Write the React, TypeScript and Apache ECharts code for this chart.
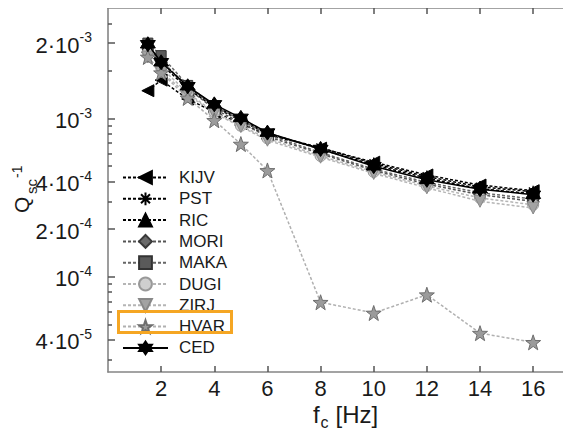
import React, { useEffect, useRef } from 'react';
import * as echarts from 'echarts';

// ---- data ----
const freqHz = [1.5, 2, 3, 4, 5, 6, 8, 10, 12, 14, 16];

const qKIJV = [1.5e-3, 1.75e-3, 1.33e-3, 1.1e-3, 9.3e-4, 7.9e-4, 6.5e-4, 5.3e-4, 4.4e-4, 3.8e-4, 3.5e-4];
const qPST = [2.75e-3, 2.2e-3, 1.55e-3, 1.18e-3, 9.7e-4, 8.0e-4, 6.55e-4, 5.2e-4, 4.3e-4, 3.7e-4, 3.45e-4];
const qRIC = [2.85e-3, 2.3e-3, 1.6e-3, 1.2e-3, 9.9e-4, 8.1e-4, 6.4e-4, 5.1e-4, 4.2e-4, 3.6e-4, 3.35e-4];
const qMORI = [2.9e-3, 2.35e-3, 1.55e-3, 1.15e-3, 9.4e-4, 7.7e-4, 6.0e-4, 4.7e-4, 3.85e-4, 3.3e-4, 3.0e-4];
const qMAKA = [3.0e-3, 2.5e-3, 1.62e-3, 1.2e-3, 9.8e-4, 7.9e-4, 6.1e-4, 4.8e-4, 3.95e-4, 3.4e-4, 3.1e-4];
const qDUGI = [2.6e-3, 2.1e-3, 1.45e-3, 1.1e-3, 9.0e-4, 7.5e-4, 5.8e-4, 4.6e-4, 3.75e-4, 3.15e-4, 2.85e-4];
const qZIRJ = [2.45e-3, 1.97e-3, 1.42e-3, 1.08e-3, 8.9e-4, 7.3e-4, 5.7e-4, 4.5e-4, 3.65e-4, 3.0e-4, 2.72e-4];
const qHVAR = [2.45e-3, 1.95e-3, 1.35e-3, 9.75e-4, 6.9e-4, 4.7e-4, 6.9e-5, 5.9e-5, 7.7e-5, 4.4e-5, 3.85e-5];
const qCED = [2.95e-3, 2.27e-3, 1.6e-3, 1.23e-3, 1.01e-3, 8.15e-4, 6.42e-4, 5.0e-4, 4.1e-4, 3.58e-4, 3.3e-4];

const xTicks = [2, 4, 6, 8, 10, 12, 14, 16];
const yMajorTicks = [3e-3, 1e-3, 4e-4, 2e-4, 1e-4, 4e-5];
const yMajorMantissa = ['2·', '', '4·', '2·', '', '4·'];
const yMajorExponent = ['-3', '-3', '-4', '-4', '-4', '-5'];
const yMinorTicks = [4e-3, 2e-3, 9e-4, 8e-4, 7e-4, 6e-4, 5e-4, 3e-4, 9e-5, 8e-5, 7e-5, 6e-5, 5e-5, 3e-5];

const xMin = 0;
const xMax = 17.5;
const yMin = 2.5e-5;
const yMax = 5e-3;

// ---- styles ----
const FONT = 'Liberation Sans, Arial, Helvetica, sans-serif';
const TXT = '#1a1a1a';
const AXIS_COLOR = '#858585';
const TICK_COLOR = '#555555';

const LEFT_TRI = 'path://M0,5L10,0L10,10Z';
const DOWN_TRI = 'path://M0,0L10,0L5,9Z';
const ASTERISK = 'path://M5,0L5,10M0,5L10,5M1.5,1.5L8.5,8.5M8.5,1.5L1.5,8.5';
const STAR5 = 'path://M5,0L6.18,3.38L9.76,3.45L6.9,5.62L7.94,9.05L5,7L2.06,9.05L3.1,5.62L0.24,3.45L3.82,3.38Z';
const HEXAGRAM = 'path://M5,0L9.33,7.5L0.67,7.5Z M5,10L0.67,2.5L9.33,2.5Z';

const seriesDefs = [
  { name: 'KIJV', values: qKIJV, symbol: LEFT_TRI, size: 12, fill: '#000', stroke: '#000', bw: 1, line: '#000', dash: true },
  { name: 'PST', values: qPST, symbol: ASTERISK, size: 12, fill: '#000', stroke: '#000', bw: 1.4, line: '#000', dash: true },
  { name: 'RIC', values: qRIC, symbol: 'triangle', size: 12, fill: '#000', stroke: '#000', bw: 1, line: '#000', dash: true },
  { name: 'MORI', values: qMORI, symbol: 'diamond', size: 12, fill: '#6a6a6a', stroke: '#3a3a3a', bw: 1, line: '#555', dash: true },
  { name: 'MAKA', values: qMAKA, symbol: 'rect', size: 10, fill: '#5a5a5a', stroke: '#333', bw: 1, line: '#666', dash: true },
  { name: 'DUGI', values: qDUGI, symbol: 'circle', size: 11, fill: '#cfcfcf', stroke: '#999', bw: 1, line: '#b5b5b5', dash: true },
  { name: 'ZIRJ', values: qZIRJ, symbol: DOWN_TRI, size: 12, fill: '#a3a3a3', stroke: '#888', bw: 1, line: '#b5b5b5', dash: true },
  { name: 'HVAR', values: qHVAR, symbol: STAR5, size: 15, fill: '#9b9b9b', stroke: '#6e6e6e', bw: 1, line: '#b0b0b0', dash: true },
  { name: 'CED', values: qCED, symbol: HEXAGRAM, size: 15, fill: '#000', stroke: '#000', bw: 1, line: '#000', dash: false },
];

const L10 = (v: number) => Math.log10(v);

function yLabel(val: number): string {
  let best = 0;
  let bestD = Infinity;
  yMajorTicks.forEach((t, i) => {
    const d = Math.abs(L10(t) - val);
    if (d < bestD) { bestD = d; best = i; }
  });
  return `{b|${yMajorMantissa[best]}10}{s|${yMajorExponent[best]}}`;
}

export default function App() {
  const ref = useRef<HTMLDivElement>(null);

  useEffect(() => {
    if (!ref.current) return;
    const chart = echarts.init(ref.current, undefined, { renderer: 'svg' });

    const lmin = L10(yMin);
    const lmax = L10(yMax);
    const majorLog = yMajorTicks.map(L10);
    const minorLog = yMinorTicks.map(L10);
    const axisLine = { show: true, lineStyle: { color: AXIS_COLOR, width: 1.6 } };
    const tickStyle = { color: TICK_COLOR, width: 1.5 };

    const option: any = {
      animation: false,
      backgroundColor: '#ffffff',
      grid: { left: 108, top: 8, right: -2, bottom: 61, containLabel: false, outerBoundsMode: 'none' },
      xAxis: [
        {
          type: 'value', min: xMin, max: xMax, position: 'bottom',
          axisLine,
          axisTick: { show: true, inside: true, length: 6, customValues: xTicks, lineStyle: tickStyle },
          axisLabel: { show: true, customValues: xTicks, fontSize: 22, fontFamily: FONT, color: TXT, margin: 5 },
          splitLine: { show: false },
        },
        {
          type: 'value', min: xMin, max: xMax, position: 'top',
          axisLine,
          axisTick: { show: true, inside: true, length: 6, customValues: xTicks, lineStyle: tickStyle },
          axisLabel: { show: false },
          splitLine: { show: false },
        },
      ],
      yAxis: [
        {
          type: 'log', logBase: 10, min: yMin, max: yMax, position: 'left',
          axisLine, axisTick: { show: false }, axisLabel: { show: false },
          splitLine: { show: false }, minorTick: { show: false },
        },
        {
          type: 'value', min: lmin, max: lmax, position: 'left',
          axisLine: { show: false },
          axisTick: { show: true, inside: true, length: 7, customValues: majorLog, lineStyle: tickStyle },
          axisLabel: {
            show: true, customValues: majorLog, margin: 16, formatter: yLabel,
            rich: {
              b: { fontSize: 22, fontFamily: FONT, color: TXT, verticalAlign: 'bottom', lineHeight: 26 },
              s: { fontSize: 14, fontFamily: FONT, color: TXT, verticalAlign: 'top', lineHeight: 14 },
            },
          },
          splitLine: { show: false },
        },
        {
          type: 'value', min: lmin, max: lmax, position: 'left',
          axisLine: { show: false },
          axisTick: { show: true, inside: true, length: 4, customValues: minorLog, lineStyle: tickStyle },
          axisLabel: { show: false },
          splitLine: { show: false },
        },
        {
          type: 'value', min: lmin, max: lmax, position: 'right',
          axisLine,
          axisTick: { show: true, inside: true, length: 7, customValues: majorLog, lineStyle: tickStyle },
          axisLabel: { show: false },
          splitLine: { show: false },
        },
        {
          type: 'value', min: lmin, max: lmax, position: 'right',
          axisLine: { show: false },
          axisTick: { show: true, inside: true, length: 4, customValues: minorLog, lineStyle: tickStyle },
          axisLabel: { show: false },
          splitLine: { show: false },
        },
      ],
      legend: {
        orient: 'vertical', left: 122, top: 169, itemWidth: 45, itemHeight: 16, itemGap: 4.3,
        padding: 0, selectedMode: false,
        textStyle: { fontSize: 17, fontFamily: FONT, color: TXT, lineHeight: 17, padding: [0, 0, 0, 6] },
        data: seriesDefs.map((s) => s.name),
      },
      series: seriesDefs.map((s, k) => ({
        name: s.name,
        type: 'line',
        xAxisIndex: 0,
        yAxisIndex: 0,
        data: freqHz.map((f, i) => [f, s.values[i]]),
        symbol: s.symbol,
        symbolSize: s.size,
        showSymbol: true,
        z: 2 + k * 0.01,
        itemStyle: { color: s.fill, borderColor: s.stroke, borderWidth: s.bw },
        lineStyle: { color: s.line, width: 1.5, type: s.dash ? [3, 2] : 'solid' },
        emphasis: { disabled: true },
      })),
      graphic: [
        {
          type: 'rect', z: 100,
          shape: { x: 118.5, y: 311.5, width: 113, height: 21 },
          style: { fill: 'none', stroke: '#f5a623', lineWidth: 3 },
        },
        { type: 'text', x: 313, y: 426, style: { text: 'f', fontSize: 24, fontFamily: FONT, fill: TXT, align: 'left', verticalAlign: 'bottom' } },
        { type: 'text', x: 320.5, y: 430, style: { text: 'c', fontSize: 16, fontFamily: FONT, fill: TXT, align: 'left', verticalAlign: 'bottom' } },
        { type: 'text', x: 335.5, y: 426, style: { text: '[Hz]', fontSize: 24, fontFamily: FONT, fill: TXT, align: 'left', verticalAlign: 'bottom' } },
        {
          type: 'group', x: 28, y: 213, rotation: Math.PI / 2,
          children: [
            { type: 'text', x: 0, y: -7, style: { text: 'Q', fontSize: 21, fontFamily: FONT, fill: TXT, align: 'left', verticalAlign: 'middle' } },
            { type: 'text', x: 19, y: 3.8, style: { text: 'sc', fontSize: 15, fontFamily: FONT, fill: TXT, align: 'left', verticalAlign: 'middle' } },
            { type: 'text', x: 35, y: -10.9, style: { text: '-1', fontSize: 14, fontFamily: FONT, fill: TXT, align: 'left', verticalAlign: 'middle' } },
          ],
        },
      ],
    };

    chart.setOption(option);
    return () => chart.dispose();
  }, []);

  return <div ref={ref} style={{ width: 571, height: 433, marginLeft: -8, marginTop: -8 }} />;
}
